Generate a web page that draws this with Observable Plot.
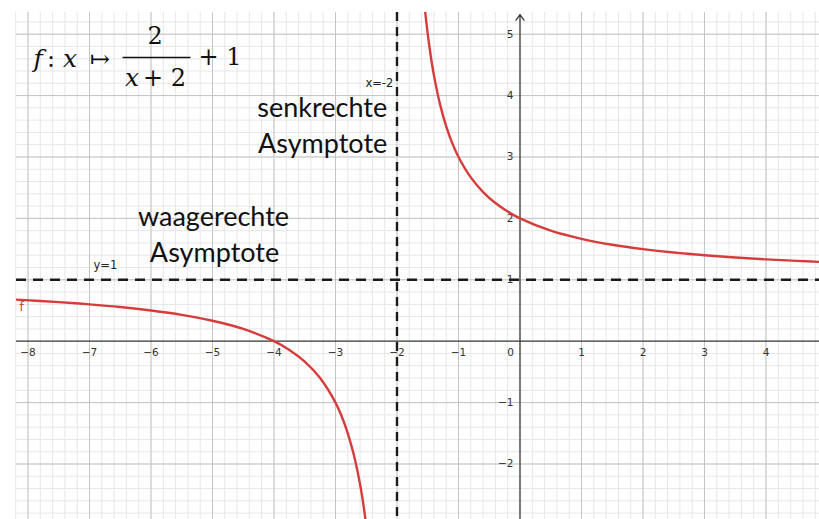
<!DOCTYPE html>
<html>
<head>
<meta charset="utf-8">
<script src="https://cdn.jsdelivr.net/npm/d3@7"></script>
<script src="https://cdn.jsdelivr.net/npm/@observablehq/plot@0.6"></script>
<style>
  html, body { margin: 0; padding: 0; background: #fff; }
  #chart svg { display: block; }
</style>
</head>
<body>
<div id="chart"></div>
<script>
// ---- data ----
const xDomain = [-8.187, 4.870];
const yDomain = [-2.904, 5.353];
const xTicks = [-8, -7, -6, -5, -4, -3, -2, -1, 1, 2, 3, 4];
const yTicks = [-2, -1, 1, 2, 3, 4, 5];
const majorX = [-8, -7, -6, -5, -4, -3, -2, -1, 1, 2, 3, 4];
const majorY = [-2, -1, 1, 2, 3, 4, 5];

// graph of f (left branch, right branch)
const leftX  = [-8.2, -7.5, -7, -6.5, -6, -5.5, -5, -4.5, -4, -3.75, -3.5, -3.25, -3, -2.9, -2.8, -2.7, -2.6, -2.55, -2.5];
const leftY  = [0.677, 0.636, 0.6, 0.556, 0.5, 0.429, 0.333, 0.2, 0, -0.143, -0.333, -0.6, -1, -1.222, -1.5, -1.857, -2.333, -2.636, -3];
const rightX = [-1.55, -1.5, -1.45, -1.4, -1.3, -1.2, -1.1, -1, -0.8, -0.6, -0.4, -0.2, 0, 0.5, 1, 1.5, 2, 2.5, 3, 3.5, 4, 4.5, 4.9];
const rightY = [5.444, 5, 4.636, 4.333, 3.857, 3.5, 3.222, 3, 2.667, 2.429, 2.25, 2.111, 2, 1.8, 1.667, 1.571, 1.5, 1.444, 1.4, 1.364, 1.333, 1.308, 1.29];

const verticalAsymptote = [-2];
const horizontalAsymptote = [1];

const labelVertical = [{x: -2.06, y: 4.197, text: "x=-2"}];
const labelHorizontal = [{x: -6.935, y: 1.233, text: "y=1"}];
const curveLabel = [{x: -8.14, y: 0.549, text: "f"}];
const bigLabels = [
  {x: -3.216, y: 3.648, text: "senkrechte"},
  {x: -3.210, y: 3.057, text: "Asymptote"},
  {x: -4.984, y: 1.884, text: "waagerechte"},
  {x: -4.967, y: 1.282, text: "Asymptote"}
];
// formula  f: x ↦ 2/(x+2) + 1   (positions are left edges, baselines)
const formulaItalic = [
  {x: -7.911, y: 4.458, text: "f"},
  {x: -7.430, y: 4.458, text: "x"},
  {x: -6.423, y: 4.164, text: "x"}
];
const formulaUpright = [
  {x: -7.690, y: 4.458, text: ":"},
  {x: -6.990, y: 4.458, text: "↦"},
  {x: -6.057, y: 4.848, text: "2"},
  {x: -6.130, y: 4.164, text: "+ 2"},
  {x: -5.228, y: 4.490, text: "+ 1"}
];
const fractionBar = [{x1: -6.463, x2: -5.358, y: 4.62}];

// ---- derived tables ----
const curve = [
  ...leftX.map((x, i) => ({x, y: leftY[i], branch: "left"})),
  ...rightX.map((x, i) => ({x, y: rightY[i], branch: "right"}))
];
const minorX = d3.range(-41, 25).map(i => i / 5);
const minorY = d3.range(-15, 27).map(i => i / 5);
const fmt = d => d < 0 ? "\u2212" + Math.abs(d) : String(d);
const tickFont = {fontSize: 10.5, fontFamily: "DejaVu Sans", fill: "#333"};

const chart = Plot.plot({
  width: 819,
  height: 519,
  marginLeft: 16,
  marginRight: 0,
  marginTop: 12,
  marginBottom: 0,
  x: {domain: xDomain, axis: null},
  y: {domain: yDomain, axis: null},
  style: {background: "#fff"},
  marks: [
    Plot.ruleX(minorX, {stroke: "#e7e7e7", strokeWidth: 1}),
    Plot.ruleY(minorY, {stroke: "#e7e7e7", strokeWidth: 1}),
    Plot.ruleX(majorX, {stroke: "#c4c4c4", strokeWidth: 1}),
    Plot.ruleY(majorY, {stroke: "#c4c4c4", strokeWidth: 1}),
    Plot.ruleY([0], {stroke: "#3a3a3a", strokeWidth: 1.3}),
    Plot.arrow([{x1: 0, y1: yDomain[0], x2: 0, y2: 5.32}], {
      x1: "x1", y1: "y1", x2: "x2", y2: "y2",
      stroke: "#3a3a3a", strokeWidth: 1.3, headLength: 8, headAngle: 70
    }),
    Plot.text(xTicks, {x: d => d, y: 0, dy: 11, text: fmt, ...tickFont}),
    Plot.text([0], {x: 0, y: 0, dx: -9.5, dy: 11, text: fmt, ...tickFont}),
    Plot.text(yTicks, {x: 0, y: d => d, dx: -6.5, textAnchor: "end", text: fmt, ...tickFont}),
    Plot.ruleX(verticalAsymptote, {stroke: "#1a1a1a", strokeWidth: 2.4, strokeDasharray: "9,6"}),
    Plot.ruleY(horizontalAsymptote, {stroke: "#1a1a1a", strokeWidth: 2.4, strokeDasharray: "10,7"}),
    Plot.line(curve, {x: "x", y: "y", z: "branch", curve: "catmull-rom", stroke: "#d63c3c", strokeWidth: 2.4, clip: true}),
    Plot.text(labelVertical, {x: "x", y: "y", text: "text", textAnchor: "end", fontSize: 11.5, fontFamily: "DejaVu Sans", fill: "#222"}),
    Plot.text(labelHorizontal, {x: "x", y: "y", text: "text", textAnchor: "start", fontSize: 11.5, fontFamily: "DejaVu Sans", fill: "#222"}),
    Plot.text(curveLabel, {x: "x", y: "y", text: "text", textAnchor: "start", fontSize: 12, fontFamily: "DejaVu Sans", fill: "#d63c3c"}),
    Plot.text(bigLabels, {x: "x", y: "y", text: "text", textAnchor: "middle", lineAnchor: "bottom", fontSize: 27, fontFamily: "Lato", fill: "#111"}),
    Plot.text(formulaItalic, {x: "x", y: "y", text: "text", textAnchor: "start", lineAnchor: "bottom", fontSize: 25, fontStyle: "italic", fontFamily: "DejaVu Serif", fill: "#111"}),
    Plot.text(formulaUpright, {x: "x", y: "y", text: "text", textAnchor: "start", lineAnchor: "bottom", fontSize: 24, fontFamily: "DejaVu Serif", fill: "#111"}),
    Plot.link(fractionBar, {x1: "x1", x2: "x2", y1: "y", y2: "y", stroke: "#111", strokeWidth: 1.6})
  ]
});
document.getElementById("chart").appendChild(chart);
</script>
</body>
</html>
